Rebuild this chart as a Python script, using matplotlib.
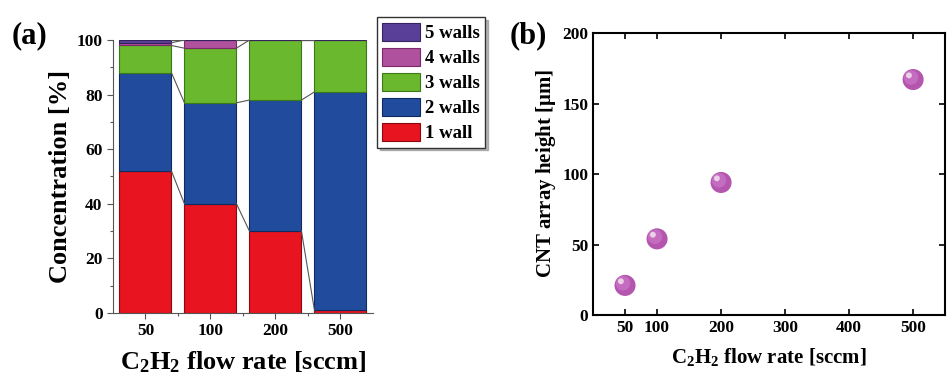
import numpy as np
import matplotlib
matplotlib.use('Agg')
import matplotlib.pyplot as plt
from matplotlib.ticker import MultipleLocator, FixedLocator
import matplotlib.transforms as mtransforms

plt.rcParams['font.family'] = 'Liberation Serif'
plt.rcParams['font.weight'] = 'bold'
plt.rcParams['axes.labelweight'] = 'bold'
plt.rcParams['mathtext.fontset'] = 'custom'
plt.rcParams['mathtext.rm'] = 'Liberation Serif:bold'
plt.rcParams['mathtext.it'] = 'Liberation Serif:bold'
plt.rcParams['mathtext.bf'] = 'Liberation Serif:bold'

# panel (a) data: wall-number distribution [%]
flow_labels = ['50', '100', '200', '500']
wall_labels = ['1 wall', '2 walls', '3 walls', '4 walls', '5 walls']
one_wall = [52, 40, 30, 1]
two_walls = [36, 37, 48, 80]
three_walls = [10, 20, 22, 19]
four_walls = [1, 3, 0, 0]
five_walls = [1, 0, 0, 0]

# panel (b) data: array height vs flow rate
flow_rate = [50, 100, 200, 500]
height = [21, 54, 94, 167]

colors = ['#e8141f', '#214c9e', '#6ab82e', '#b0519d', '#5a3f98']
edges = ['#8a0a10', '#0f2a60', '#3a7a18', '#7a2a6a', '#35235e']

fig = plt.figure(figsize=(9.49, 3.76), dpi=100)

# ---- panel (a)
ax1 = fig.add_axes([0.119, 0.1676, 0.274, 0.726])
series = [one_wall, two_walls, three_walls, four_walls, five_walls]
x = np.arange(len(flow_labels))
w = 0.8
bottom = np.zeros(len(x))
tops = []
for vals, c, ec, lab in zip(series, colors, edges, wall_labels):
    vals = np.array(vals, dtype=float)
    ax1.bar(x, vals, w, bottom=bottom, color=c, edgecolor=ec, linewidth=0.8, label=lab, zorder=2)
    bottom = bottom + vals
    tops.append(bottom.copy())

# connecting lines between stacked boundaries
for cum in tops:
    for i in range(len(x) - 1):
        ax1.plot([x[i] + w / 2, x[i + 1] - w / 2], [cum[i], cum[i + 1]],
                 color='#555555', lw=0.8, zorder=3)

ax1.set_xlim(-0.5, 3.5)
ax1.set_ylim(0, 100)
ax1.set_xticks(x)
ax1.set_xticklabels(flow_labels)
ax1.xaxis.set_minor_locator(FixedLocator([0.5, 1.5, 2.5]))
ax1.yaxis.set_major_locator(MultipleLocator(20))
ax1.yaxis.set_minor_locator(MultipleLocator(10))
ax1.tick_params(axis='both', which='major', direction='out', length=4, width=0.8,
                labelsize=12.5, color='#555555')
ax1.tick_params(axis='both', which='minor', direction='out', length=2.5, width=0.8,
                color='#555555')
for s in ['top', 'right']:
    ax1.spines[s].set_visible(False)
for s in ['left', 'bottom']:
    ax1.spines[s].set_color('#555555')
    ax1.spines[s].set_linewidth(0.8)
ax1.set_ylabel('Concentration [%]', fontsize=19, labelpad=3)
ax1.set_xlabel(r'C$_2$H$_2$ flow rate [sccm]', fontsize=19, labelpad=7)

h, l = ax1.get_legend_handles_labels()
fig.legend(h[::-1], l[::-1], loc='upper left', bbox_to_anchor=(0.397, 0.955),
           fontsize=13.5, frameon=True, fancybox=False,
           shadow={'color': '#888888', 'alpha': 0.6},
           edgecolor='#333333', handlelength=2.0, handleheight=1.1,
           handletextpad=0.25, labelspacing=0.3, borderpad=0.3, borderaxespad=0)

fig.text(0.012, 0.885, '(a)', fontsize=22, fontweight='bold')

# ---- panel (b)
ax2 = fig.add_axes([0.6249, 0.1622, 0.371, 0.75])
ax2.scatter(flow_rate, height, s=230, color='#b455ae', edgecolors='none', zorder=3)
ax2.scatter(flow_rate, height, s=110, color='#c46cbf', edgecolors='none', zorder=4,
            transform=ax2.transData + mtransforms.ScaledTranslation(-1.5 / 72, 1.5 / 72, fig.dpi_scale_trans))
ax2.scatter(flow_rate, height, s=18, color='#ecd0e9', edgecolors='none', zorder=5,
            transform=ax2.transData + mtransforms.ScaledTranslation(-3 / 72, 3 / 72, fig.dpi_scale_trans))
ax2.set_xlim(0, 550)
ax2.set_ylim(0, 200)
ax2.set_xticks([50, 100, 200, 300, 400, 500])
ax2.set_yticks([0, 50, 100, 150, 200])
ax2.tick_params(axis='both', direction='in', length=4, width=1.2, labelsize=12.5,
                top=True, right=True)
for s in ax2.spines.values():
    s.set_linewidth(1.5)
ax2.set_ylabel(r'CNT array height [$\mathregular{\mu}$m]', fontsize=15, labelpad=3)
ax2.set_xlabel(r'C$_2$H$_2$ flow rate [sccm]', fontsize=15, labelpad=7)

fig.text(0.537, 0.885, '(b)', fontsize=22, fontweight='bold')

fig.savefig('out.png', dpi=100)
